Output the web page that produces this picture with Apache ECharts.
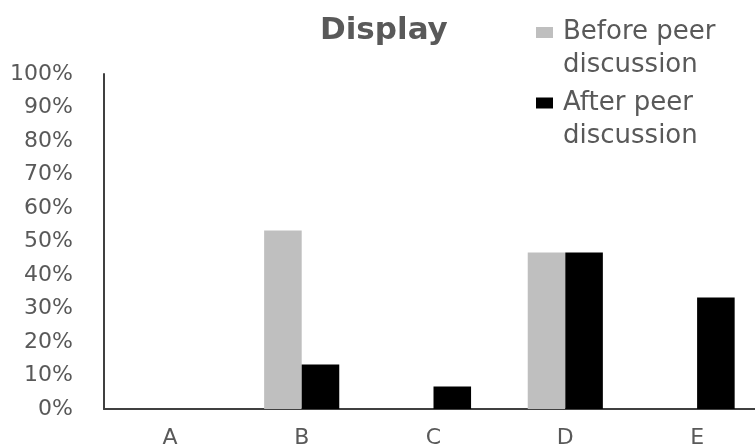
<!DOCTYPE html>
<html>
<head>
<meta charset="utf-8">
<script src="https://cdn.jsdelivr.net/npm/echarts@6/dist/echarts.min.js"></script>
<style>
  html, body { margin: 0; padding: 0; background: #ffffff; }
  #chart { width: 755px; height: 447px; }
</style>
</head>
<body>
<div id="chart"></div>
<script>
// Share of answers per option, in percent
const categories = ['A', 'B', 'C', 'D', 'E'];
const beforeDiscussion = [0, 53.3, 0, 46.7, 0];
const afterDiscussion = [0, 13.3, 6.7, 46.7, 33.3];
const seriesNames = ['Before peer discussion', 'After peer discussion'];
const titleText = 'Display';

const textGray = '#595959';
const axisGray = '#404040';
const font = 'DejaVu Sans';

const chart = echarts.init(document.getElementById('chart'), null, { renderer: 'canvas' });

chart.setOption({
  animation: false,
  backgroundColor: '#ffffff',
  title: {
    text: titleText,
    left: 320,
    top: 15,
    padding: 0,
    textStyle: { fontFamily: font, fontSize: 31, fontWeight: 'bold', color: textGray }
  },
  legend: {
    orient: 'vertical',
    left: 536,
    top: -17,
    padding: 0,
    itemWidth: 17,
    itemHeight: 11,
    itemGap: -28.5,
    icon: 'rect',
    data: seriesNames,
    // a leading blank line keeps the marker level with the first text line
    formatter: name => '\n' + name.replace(' discussion', '\ndiscussion'),
    textStyle: {
      fontFamily: font,
      fontSize: 26,
      lineHeight: 33,
      color: textGray,
      padding: [0, 0, 0, 5]
    }
  },
  grid: {
    left: 104,
    top: 74,
    bottom: 38,
    width: 659,
    containLabel: false,
    outerBoundsMode: 'none'
  },
  xAxis: {
    type: 'category',
    data: categories,
    axisLine: { show: true, lineStyle: { color: axisGray, width: 2 } },
    axisTick: { show: false },
    axisLabel: { margin: 18, fontFamily: font, fontSize: 22, color: textGray }
  },
  yAxis: {
    type: 'value',
    min: 0,
    max: 100,
    interval: 10,
    axisLine: { show: true, lineStyle: { color: axisGray, width: 2 } },
    axisTick: { show: false },
    splitLine: { show: false },
    axisLabel: {
      margin: 31,
      fontFamily: font,
      fontSize: 22,
      color: textGray,
      formatter: '{value}%'
    }
  },
  series: [
    {
      name: seriesNames[0],
      type: 'bar',
      data: beforeDiscussion,
      barGap: '0%',
      barCategoryGap: '43%',
      itemStyle: { color: '#bfbfbf' }
    },
    {
      name: seriesNames[1],
      type: 'bar',
      data: afterDiscussion,
      barGap: '0%',
      barCategoryGap: '43%',
      itemStyle: { color: '#000000' }
    }
  ]
});
</script>
</body>
</html>
